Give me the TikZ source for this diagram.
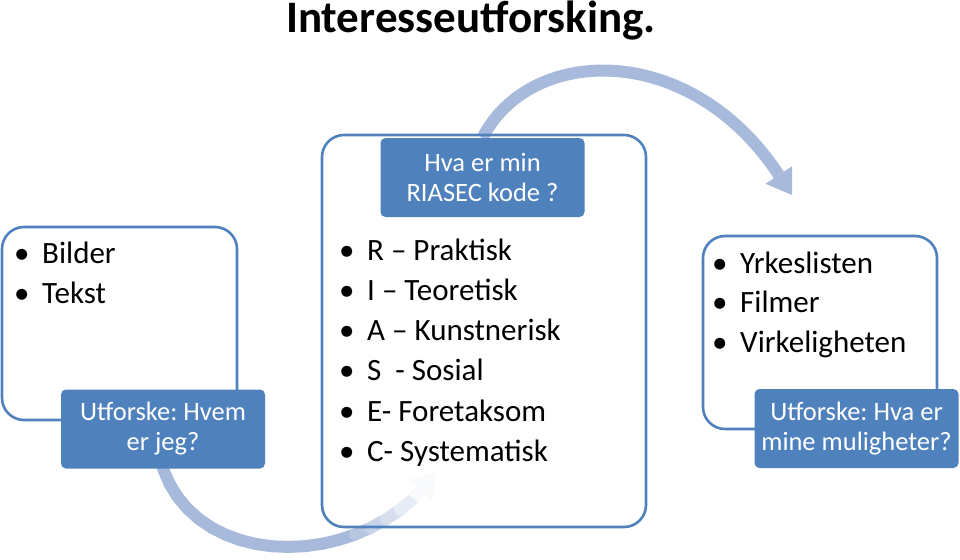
\documentclass[tikz,border=0pt]{standalone}
\usepackage{fontspec}
\setmainfont{Carlito}
\usetikzlibrary{arrows.meta,backgrounds}

\definecolor{riablue}{RGB}{79,129,189}
\definecolor{arcblue}{RGB}{167,186,219}

\newcommand\bul{\makebox[28pt][l]{\textbullet}}
\frenchspacing

\begin{document}
\begin{tikzpicture}[x=1pt, y=-1pt,
    frame/.style={draw=riablue, line width=2.6pt, rounded corners=22pt, inner sep=0pt},
    tag/.style={fill=riablue, text=white, rounded corners=5pt, align=center, inner sep=0pt,
                minimum width=204pt, minimum height=79pt, font=\fontsize{26.5}{30}\selectfont},
    entrytxt/.style={anchor=base west, inner sep=0pt, font=\fontsize{31}{36}\selectfont},
    arc/.style={draw=arcblue, line width=12pt, -{Triangle[width=32pt,length=24pt,line width=0pt]}}]
    \useasboundingbox (0,0) rectangle (960,559);

    \node[anchor=base, inner sep=0pt, font=\fontsize{45}{50}\selectfont\bfseries] (title) at (471,33) {Interesseutforsking.};

    % outlined boxes
    \node[frame, minimum width=235pt, minimum height=193pt] (leftbox) at (119.5,323.5) {};
    \node[frame, minimum width=324pt, minimum height=392pt] (midbox) at (484,331) {};
    \node[frame, minimum width=234pt, minimum height=193pt] (rightbox) at (820,332.5) {};

    % blue tags
    \node[tag] (lefttag) at (163,429) {Utforske: Hvem\\er jeg?};
    \node[tag] (midtag) at (482.5,177.5) {Hva er min\\RIASEC kode ?};
    \node[tag] (righttag) at (856.5,428.5) {Utforske: Hva er\\mine muligheter?};

    % lists
    \foreach \entry [count=\i] in {Bilder, Tekst}
        \node[entrytxt] (leftpt\i) at (14, 223+40*\i) {\bul\entry};
    \foreach \entry [count=\i] in {R -- Praktisk, I -- Teoretisk, A -- Kunstnerisk, S~ - Sosial, E- Foretaksom, C- Systematisk}
        \node[entrytxt] (midpt\i) at (339, 219.7+40.3*\i) {\bul\entry};
    \foreach \entry [count=\i] in {Yrkeslisten, Filmer, Virkeligheten}
        \node[entrytxt] (rightpt\i) at (712, 233.5+39.5*\i) {\bul\entry};

    % arcs
    \coordinate (uptip) at (792,195);
    \coordinate (lowtip) at (436,472);
    \path (lefttag.south) .. controls (200,575) and (370,570) .. (lowtip)
        \foreach \k [evaluate=\k as \t using \k/20] in {0,...,20} {coordinate[pos=\t] (lw\k)};
    \begin{scope}[on background layer]
        \draw[arc] (midtag.north) .. controls (530,45) and (690,40) .. (uptip);
        % lower arc fades out towards its tip
        \foreach \k in {0,...,17} {
            \pgfmathtruncatemacro\shade{max(10, min(100, 100-(\k-13)*18))}
            \pgfmathtruncatemacro\nxt{\k+1}
            \draw[draw=arcblue!\shade!white, line width=12pt, line cap=round] (lw\k) -- (lw\nxt);
        }
        \draw[arc, draw=arcblue!7!white] (lw18) -- (lw20);
    \end{scope}
\end{tikzpicture}
\end{document}
